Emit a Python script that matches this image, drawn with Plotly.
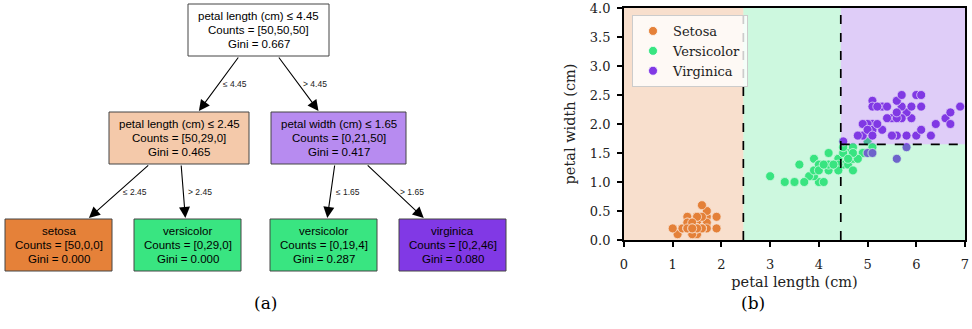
import plotly.graph_objects as go

# ---------------- data ----------------
setosa_len = [1.4,1.4,1.3,1.5,1.4,1.7,1.4,1.5,1.4,1.5,1.5,1.6,1.4,1.1,1.2,1.5,1.3,1.4,1.7,1.5,
              1.7,1.5,1.0,1.7,1.9,1.6,1.6,1.5,1.4,1.6,1.6,1.5,1.5,1.4,1.5,1.2,1.3,1.4,1.3,1.5,
              1.3,1.3,1.3,1.6,1.9,1.4,1.6,1.4,1.5,1.4]
setosa_wid = [0.2,0.2,0.2,0.2,0.2,0.4,0.3,0.2,0.2,0.1,0.2,0.2,0.1,0.1,0.2,0.4,0.4,0.3,0.3,0.3,
              0.2,0.4,0.2,0.5,0.2,0.2,0.4,0.2,0.2,0.2,0.2,0.4,0.1,0.2,0.2,0.2,0.2,0.1,0.2,0.2,
              0.3,0.3,0.2,0.6,0.4,0.3,0.2,0.2,0.2,0.2]
versi_len = [4.7,4.5,4.9,4.0,4.6,4.5,4.7,3.3,4.6,3.9,3.5,4.2,4.0,4.7,3.6,4.4,4.5,4.1,4.5,3.9,
             4.8,4.0,4.9,4.7,4.3,4.4,4.8,5.0,4.5,3.5,3.8,3.7,3.9,5.1,4.5,4.5,4.7,4.4,4.1,4.0,
             4.4,4.6,4.0,3.3,4.2,4.2,4.2,4.3,3.0,4.1]
versi_wid = [1.4,1.5,1.5,1.3,1.5,1.3,1.6,1.0,1.3,1.4,1.0,1.5,1.0,1.4,1.3,1.4,1.5,1.0,1.5,1.1,
             1.8,1.3,1.5,1.2,1.3,1.4,1.4,1.7,1.5,1.0,1.1,1.0,1.2,1.6,1.5,1.6,1.5,1.3,1.3,1.3,
             1.2,1.4,1.2,1.0,1.3,1.2,1.3,1.3,1.1,1.3]
virg_len = [6.0,5.1,5.9,5.6,5.8,6.6,4.5,6.3,5.8,6.1,5.1,5.3,5.5,5.0,5.1,5.3,5.5,6.7,6.9,5.0,
            5.7,4.9,6.7,4.9,5.7,6.0,4.8,4.9,5.6,5.8,6.1,6.4,5.6,5.1,5.6,6.1,5.6,5.5,4.8,5.4,
            5.6,5.1,5.1,5.9,5.7,5.2,5.0,5.2,5.4,5.1]
virg_wid = [2.5,1.9,2.1,1.8,2.2,2.1,1.7,1.8,1.8,2.5,2.0,1.9,2.1,2.0,2.4,2.3,1.8,2.2,2.3,1.5,
            2.3,2.0,2.0,1.8,2.1,1.8,1.8,1.8,2.1,1.6,1.9,2.0,2.2,1.5,1.4,2.3,2.4,1.8,1.8,2.1,
            2.4,2.3,1.9,2.3,2.5,2.3,1.9,2.0,2.3,1.8]

class_names = ["Setosa", "Versicolor", "Virginica"]
class_colors = ["#e58139", "#39e581", "#8139e5"]

# tree nodes: id, title line, counts, gini, fill
node_ids = ["root", "L", "R", "LL", "LR", "RL", "RR"]
node_titles = ["petal length (cm) ≤ 4.45", "petal length (cm) ≤ 2.45", "petal width (cm) ≤ 1.65",
               "setosa", "versicolor", "versicolor", "virginica"]
node_counts = ["[50,50,50]", "[50,29,0]", "[0,21,50]", "[50,0,0]", "[0,29,0]", "[0,19,4]", "[0,2,46]"]
node_gini = ["0.667", "0.465", "0.417", "0.000", "0.000", "0.287", "0.080"]
node_fill = ["#ffffff", "#f4c9aa", "#b78bf0", "#e58139", "#39e581", "#39e581", "#8139e5"]
edge_parent = ["root", "root", "L", "L", "R", "R"]
edge_child = ["L", "R", "LL", "LR", "RL", "RR"]
edge_labels = ["≤ 4.45", "> 4.45", "≤ 2.45", "> 2.45", "≤ 1.65", "> 1.65"]

# decision boundaries
split_len = [2.45, 4.45]
split_wid = 1.65

# ---------------- layout of tree (pixel-space axes) ----------------
node_geom = {  # cx, cy, width
    "root": (258.5, 30, 141), "L": (179, 138, 140), "R": (338.5, 138, 135),
    "LL": (58.5, 245, 107), "LR": (187.5, 245, 107), "RL": (323.5, 245, 107), "RR": (452.5, 245, 107),
}
NODE_H = 52
LINE_GAP = 14
TREE_W = 520

fig = go.Figure()
fig.add_trace(go.Scatter(x=[0], y=[0], mode="markers", marker=dict(opacity=0),
                         showlegend=False, hoverinfo="skip", xaxis="x", yaxis="y"))

shapes = []
annotations = []
sans = "Liberation Sans, Arial, sans-serif"
serif = "DejaVu Serif, serif"

for nid, t, c, g, f in zip(node_ids, node_titles, node_counts, node_gini, node_fill):
    cx, cy, w = node_geom[nid]
    shapes.append(dict(type="rect", xref="x", yref="y", x0=cx - w / 2, x1=cx + w / 2,
                       y0=cy - NODE_H / 2, y1=cy + NODE_H / 2, fillcolor=f,
                       line=dict(color="#444444", width=1), layer="below"))
    for i, line in enumerate([t, f"Counts = {c}", f"Gini = {g}"]):
        annotations.append(dict(xref="x", yref="y", x=cx, y=cy + (i - 1) * LINE_GAP, showarrow=False,
                                text=line, yanchor="middle",
                                font=dict(family=sans, size=11.5, color="black")))

for p, ch, lab in zip(edge_parent, edge_child, edge_labels):
    px, py, _ = node_geom[p]
    cx, cy, _ = node_geom[ch]
    ys = py + NODE_H / 2
    ye = cy - NODE_H / 2 - 1
    xs = px + (cx - px) * (ys - py) / (cy - py)
    xe = px + (cx - px) * (ye - py) / (cy - py)
    annotations.append(dict(xref="x", yref="y", axref="x", ayref="y", x=xe, y=ye, ax=xs, ay=ys,
                            text="", showarrow=True, arrowhead=2, arrowsize=2.0, arrowwidth=1.1,
                            arrowcolor="black"))
    ym = (ys + ye) / 2 + 0.5
    xm = px + (cx - px) * (ym - py) / (cy - py)
    annotations.append(dict(xref="x", yref="y", x=xm + 2.5, y=ym, text=lab, showarrow=False,
                            xanchor="left", yanchor="middle",
                            font=dict(family=sans, size=8.5, color="#222222")))

# ---------------- scatter ----------------
for name, col, xs_, ys_ in zip(class_names, class_colors,
                               [setosa_len, versi_len, virg_len],
                               [setosa_wid, versi_wid, virg_wid]):
    fig.add_trace(go.Scatter(x=xs_, y=ys_, mode="markers", name=name, xaxis="x2", yaxis="y2",
                             marker=dict(size=9, color=col, line=dict(color="white", width=0.8))))

def rgba(hexc, a):
    h = hexc.lstrip("#")
    return f"rgba({int(h[0:2],16)},{int(h[2:4],16)},{int(h[4:6],16)},{a})"

XMAX, YMAX = 7, 4
regions = [  # x0, x1, y0, y1, class index
    (0, split_len[0], 0, YMAX, 0),
    (split_len[0], split_len[1], 0, YMAX, 1),
    (split_len[1], XMAX, 0, split_wid, 1),
    (split_len[1], XMAX, split_wid, YMAX, 2),
]
for x0, x1, y0, y1, k in regions:
    shapes.append(dict(type="rect", xref="x2", yref="y2", x0=x0, x1=x1, y0=y0, y1=y1,
                       fillcolor=rgba(class_colors[k], 0.25), line=dict(width=0), layer="above"))
dash_line = dict(color="black", width=1.7, dash="dash")
shapes.append(dict(type="line", xref="x2", yref="y2", x0=split_len[0], x1=split_len[0], y0=0, y1=YMAX,
                   line=dash_line, layer="above"))
shapes.append(dict(type="line", xref="x2", yref="y2", x0=split_len[1], x1=split_len[1], y0=0, y1=YMAX,
                   line=dash_line, layer="above"))
shapes.append(dict(type="line", xref="x2", yref="y2", x0=split_len[1], x1=XMAX, y0=split_wid, y1=split_wid,
                   line=dash_line, layer="above"))

annotations.append(dict(xref="paper", yref="paper", x=252 / 972, y=1 - 315 / 329, text="(a)",
                        showarrow=False, font=dict(family=serif, size=17, color="black")))
annotations.append(dict(xref="paper", yref="paper", x=767 / 972, y=1 - 315 / 329, text="(b)",
                        showarrow=False, font=dict(family=serif, size=17, color="black")))

axis_common = dict(showline=True, mirror=True, linecolor="black", linewidth=1.8, ticks="outside",
                   ticklen=5, tickwidth=1.5, tickcolor="black", showgrid=False, zeroline=False,
                   automargin=False,
                   tickfont=dict(family=serif, size=13, color="#222222"), fixedrange=True)

fig.update_layout(
    width=972, height=329, autosize=False,
    margin=dict(l=0, r=0, t=0, b=0, pad=0),
    paper_bgcolor="white", plot_bgcolor="rgba(0,0,0,0)",
    xaxis=dict(domain=[0, TREE_W / 972], range=[0, TREE_W], visible=False, fixedrange=True),
    yaxis=dict(domain=[0, 1], range=[329, 0], visible=False, fixedrange=True),
    xaxis2=dict(domain=[624 / 972, 965 / 972], range=[0, XMAX], dtick=1, anchor="y2",
                ticklabelstandoff=6,
                title=dict(text="petal length (cm)", font=dict(family=serif, size=14.5, color="#222222"),
                           standoff=6), **axis_common),
    yaxis2=dict(domain=[1 - 240 / 329, 1 - 8 / 329], range=[0, YMAX], dtick=0.5, tickformat=".1f",
                anchor="x2", ticklabelstandoff=4,
                title=dict(text="petal width (cm)", font=dict(family=serif, size=14.5, color="#222222"),
                           standoff=11), **axis_common),
    legend=dict(x=632 / 972, y=1 - 15 / 329, xanchor="left", yanchor="top",
                bgcolor="rgba(255,255,255,0.8)", bordercolor="#cccccc", borderwidth=1,
                font=dict(family=serif, size=13, color="#222222"), itemsizing="trace",
                tracegroupgap=0),
    shapes=shapes, annotations=annotations,
)

fig.write_html("out.html",
               post_script="document.body.style.margin='0';document.body.style.overflow='hidden';")
